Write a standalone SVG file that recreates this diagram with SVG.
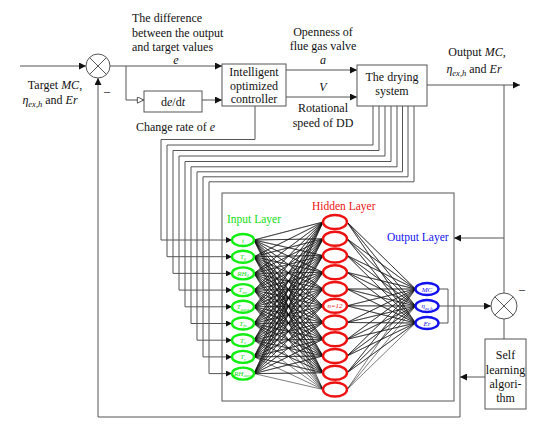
<svg xmlns="http://www.w3.org/2000/svg" width="550" height="428" viewBox="0 0 550 428">
<defs>
<style>
.ln{fill:none;stroke:#555;stroke-width:1}
.bx{fill:#fff;stroke:#555;stroke-width:1}
.t{font-family:"Liberation Serif","Times New Roman",serif;font-size:12px;fill:#111}
.c{text-anchor:middle}
.i{font-style:italic}
.nn{fill:none;stroke:#111;stroke-width:0.55;stroke-linejoin:round}
.gi{fill:#fff;stroke:#11ee11;stroke-width:2.4}
.rh{fill:#fff;stroke:#ee1111;stroke-width:2.4}
.bo{fill:#fff;stroke:#1111ee;stroke-width:2.4}
.sm{font-family:"Liberation Serif",serif;font-style:italic;font-size:7px;text-anchor:middle}
</style>
<marker id="ah" viewBox="0 0 10 10" refX="10" refY="5" markerWidth="9" markerHeight="7" markerUnits="userSpaceOnUse" orient="auto"><path d="M0,0 L10,5 L0,10 z" fill="#111"/></marker>
<marker id="ahs" viewBox="0 0 10 10" refX="10" refY="5" markerWidth="8" markerHeight="6" markerUnits="userSpaceOnUse" orient="auto"><path d="M0,0 L10,5 L0,10 z" fill="#111"/></marker>
<marker id="ao" viewBox="0 0 10 10" refX="10" refY="5" markerWidth="10" markerHeight="7" markerUnits="userSpaceOnUse" orient="auto"><path d="M0.5,0.5 L9.5,5 L0.5,9.5 z" fill="#fff" stroke="#111" stroke-width="1"/></marker>
</defs>
<rect width="550" height="428" fill="#fff"/>

<g id="connectors">
<!-- input to sum -->
<line class="ln" x1="20" y1="66" x2="86" y2="66" marker-end="url(#ah)"/>
<!-- e to controller -->
<line class="ln" x1="110" y1="66" x2="222" y2="66" marker-end="url(#ah)"/>
<polyline class="ln" points="126,66 126,100 144,100" marker-end="url(#ao)"/>
<line class="ln" x1="202" y1="100" x2="222" y2="100" marker-end="url(#ah)"/>
<!-- controller to drying -->
<line class="ln" x1="286" y1="70" x2="357" y2="70" marker-end="url(#ah)"/>
<line class="ln" x1="286" y1="97" x2="357" y2="97" marker-end="url(#ah)"/>
<!-- output -->
<line class="ln" x1="427" y1="85" x2="520" y2="85" marker-end="url(#ah)"/>
<line class="ln" x1="504" y1="85" x2="504" y2="293"/>
<line class="ln" x1="504" y1="238" x2="454" y2="238" marker-end="url(#ah)"/>
<!-- feedback -->
<polyline class="ln" points="460,306 460,417 98,417 98,78" marker-end="url(#ah)"/>
<line class="ln" x1="504" y1="319" x2="504" y2="339"/>
<line class="ln" x1="485" y1="377" x2="460" y2="377" marker-end="url(#ah)"/>
<!-- nn outputs -->
<line class="ln" x1="438.5" y1="306" x2="491" y2="306" marker-end="url(#ah)"/>
<polyline class="ln" points="438.5,289 448,289 448,323 438.5,323"/>
<!-- wires to inputs -->
<polyline class="ln" points="255,106 255,139.5 161,139.5 161,240 232,240" marker-end="url(#ahs)"/>
<polyline class="ln" points="373,106 373,145 167,145 167,256.7 232,256.7" marker-end="url(#ahs)"/>
<polyline class="ln" points="379,106 379,150.5 173,150.5 173,273.4 232,273.4" marker-end="url(#ahs)"/>
<polyline class="ln" points="385,106 385,156 179,156 179,290.1 232,290.1" marker-end="url(#ahs)"/>
<polyline class="ln" points="391,106 391,161.5 185,161.5 185,306.8 232,306.8" marker-end="url(#ahs)"/>
<polyline class="ln" points="397,106 397,166.8 191,166.8 191,323.5 232,323.5" marker-end="url(#ahs)"/>
<polyline class="ln" points="402.5,106 402.5,171.8 197,171.8 197,340.2 232,340.2" marker-end="url(#ahs)"/>
<polyline class="ln" points="408,106 408,176.8 203,176.8 203,356.9 232,356.9" marker-end="url(#ahs)"/>
<polyline class="ln" points="414,106 414,181.8 209,181.8 209,373.6 232,373.6" marker-end="url(#ahs)"/>
</g>

<g id="sum1">
<circle cx="98" cy="66" r="12" class="bx"/>
<path class="ln" d="M89.5,57.5 L106.5,74.5 M106.5,57.5 L89.5,74.5"/>
<text class="t" x="104" y="95">–</text>
</g>

<g id="target-label">
<text class="t c" x="55" y="89">Target <tspan class="i">MC</tspan>,</text>
<text class="t c" x="50" y="104"><tspan class="i">η</tspan><tspan class="i" font-size="8.5" dy="3">ex,h</tspan><tspan dy="-3"> and </tspan><tspan class="i">Er</tspan></text>
</g>

<g id="diff-label">
<text class="t" x="132" y="22">The difference</text>
<text class="t" x="132" y="37">between the output</text>
<text class="t" x="132" y="51">and target values</text>
<text class="t c i" x="176" y="64">e</text>
</g>

<g id="dedt">
<rect class="bx" x="144" y="91" width="58" height="21"/>
<text class="t c" x="173" y="106">d<tspan class="i">e</tspan>/d<tspan class="i">t</tspan></text>
<text class="t" x="136" y="131">Change rate of <tspan class="i">e</tspan></text>
</g>

<g id="controller">
<rect class="bx" x="222" y="64" width="64" height="42"/>
<text class="t c" x="254" y="76">Intelligent</text>
<text class="t c" x="254" y="90">optimized</text>
<text class="t c" x="254" y="103">controller</text>
</g>

<g id="signal-labels">
<text class="t c" x="323" y="36">Openness of</text>
<text class="t c" x="323" y="50">flue gas valve</text>
<text class="t c i" x="323" y="64">a</text>
<text class="t c i" x="323" y="91">V</text>
<text class="t c" x="323" y="112">Rotational</text>
<text class="t c" x="323" y="127">speed of DD</text>
</g>

<g id="drying">
<rect class="bx" x="357" y="65" width="70" height="41"/>
<text class="t c" x="392" y="81">The drying</text>
<text class="t c" x="392" y="95">system</text>
</g>

<g id="output-label">
<text class="t c" x="477" y="56">Output <tspan class="i">MC</tspan>,</text>
<text class="t c" x="474" y="73"><tspan class="i">η</tspan><tspan class="i" font-size="8.5" dy="3">ex,h</tspan><tspan dy="-3"> and </tspan><tspan class="i">Er</tspan></text>
</g>

<g id="nn">
<rect class="ln" x="222" y="193" width="232" height="208"/>
<text class="t" x="227" y="223" fill="#11dd11" style="fill:#11dd11;font-size:11.5px">Input Layer</text>
<text class="t" x="312" y="210" style="fill:#ee1111;font-size:11.5px">Hidden Layer</text>
<text class="t" x="387" y="241" style="fill:#1111ee;font-size:11.5px">Output Layer</text>
<path class="nn" d="M254 240 L323 222 254 240 323 238.8 254 240 323 255.5 254 240 323 272.3 254 240 323 289 254 240 323 305.8 254 240 323 322.5 254 240 323 339.3 254 240 323 356 254 240 323 372.8 254 240 323 389.5
M254 256.7 L323 222 254 256.7 323 238.8 254 256.7 323 255.5 254 256.7 323 272.3 254 256.7 323 289 254 256.7 323 305.8 254 256.7 323 322.5 254 256.7 323 339.3 254 256.7 323 356 254 256.7 323 372.8 254 256.7 323 389.5
M254 273.4 L323 222 254 273.4 323 238.8 254 273.4 323 255.5 254 273.4 323 272.3 254 273.4 323 289 254 273.4 323 305.8 254 273.4 323 322.5 254 273.4 323 339.3 254 273.4 323 356 254 273.4 323 372.8 254 273.4 323 389.5
M254 290.1 L323 222 254 290.1 323 238.8 254 290.1 323 255.5 254 290.1 323 272.3 254 290.1 323 289 254 290.1 323 305.8 254 290.1 323 322.5 254 290.1 323 339.3 254 290.1 323 356 254 290.1 323 372.8 254 290.1 323 389.5
M254 306.8 L323 222 254 306.8 323 238.8 254 306.8 323 255.5 254 306.8 323 272.3 254 306.8 323 289 254 306.8 323 305.8 254 306.8 323 322.5 254 306.8 323 339.3 254 306.8 323 356 254 306.8 323 372.8 254 306.8 323 389.5
M254 323.5 L323 222 254 323.5 323 238.8 254 323.5 323 255.5 254 323.5 323 272.3 254 323.5 323 289 254 323.5 323 305.8 254 323.5 323 322.5 254 323.5 323 339.3 254 323.5 323 356 254 323.5 323 372.8 254 323.5 323 389.5
M254 340.2 L323 222 254 340.2 323 238.8 254 340.2 323 255.5 254 340.2 323 272.3 254 340.2 323 289 254 340.2 323 305.8 254 340.2 323 322.5 254 340.2 323 339.3 254 340.2 323 356 254 340.2 323 372.8 254 340.2 323 389.5
M254 356.9 L323 222 254 356.9 323 238.8 254 356.9 323 255.5 254 356.9 323 272.3 254 356.9 323 289 254 356.9 323 305.8 254 356.9 323 322.5 254 356.9 323 339.3 254 356.9 323 356 254 356.9 323 372.8 254 356.9 323 389.5
M254 373.6 L323 222 254 373.6 323 238.8 254 373.6 323 255.5 254 373.6 323 272.3 254 373.6 323 289 254 373.6 323 305.8 254 373.6 323 322.5 254 373.6 323 339.3 254 373.6 323 356 254 373.6 323 372.8 254 373.6 323 389.5
M415.5 289 L347 222 415.5 289 347 238.8 415.5 289 347 255.5 415.5 289 347 272.3 415.5 289 347 289 415.5 289 347 305.8 415.5 289 347 322.5 415.5 289 347 339.3 415.5 289 347 356 415.5 289 347 372.8 415.5 289 347 389.5
M415.5 306 L347 222 415.5 306 347 238.8 415.5 306 347 255.5 415.5 306 347 272.3 415.5 306 347 289 415.5 306 347 305.8 415.5 306 347 322.5 415.5 306 347 339.3 415.5 306 347 356 415.5 306 347 372.8 415.5 306 347 389.5
M415.5 323 L347 222 415.5 323 347 238.8 415.5 323 347 255.5 415.5 323 347 272.3 415.5 323 347 289 415.5 323 347 305.8 415.5 323 347 322.5 415.5 323 347 339.3 415.5 323 347 356 415.5 323 347 372.8 415.5 323 347 389.5"/>
</g>

<g id="input-nodes">
<ellipse class="gi" cx="243" cy="240" rx="11" ry="6"/>
<ellipse class="gi" cx="243" cy="256.7" rx="11" ry="6"/>
<ellipse class="gi" cx="243" cy="273.4" rx="11" ry="6"/>
<ellipse class="gi" cx="243" cy="290.1" rx="11" ry="6"/>
<ellipse class="gi" cx="243" cy="306.8" rx="11" ry="6"/>
<ellipse class="gi" cx="243" cy="323.5" rx="11" ry="6"/>
<ellipse class="gi" cx="243" cy="340.2" rx="11" ry="6"/>
<ellipse class="gi" cx="243" cy="356.9" rx="11" ry="6"/>
<ellipse class="gi" cx="243" cy="373.6" rx="11" ry="6"/>
<g fill="#11dd11">
<text class="sm" x="243" y="242.5">t</text>
<text class="sm" x="243" y="259">T<tspan font-size="4.5" dy="1.5">0</tspan></text>
<text class="sm" x="243" y="275.7">RH<tspan font-size="4.5" dy="1.5">0</tspan></text>
<text class="sm" x="243" y="292.4">T<tspan font-size="4.5" dy="1.5">air</tspan></text>
<text class="sm" x="243" y="309.1">T<tspan font-size="4.5" dy="1.5">aave</tspan></text>
<text class="sm" x="243" y="325.8">T<tspan font-size="4.5" dy="1.5">fu</tspan></text>
<text class="sm" x="243" y="342.5">T<tspan font-size="4.5" dy="1.5">c</tspan></text>
<text class="sm" x="243" y="359.2">T<tspan font-size="4.5" dy="1.5">r</tspan></text>
<text class="sm" x="243" y="375.9">RH<tspan font-size="4.5" dy="1.5">aave</tspan></text>
</g>
</g>

<g id="hidden-nodes">
<ellipse class="rh" cx="335" cy="222" rx="12" ry="7"/>
<ellipse class="rh" cx="335" cy="238.8" rx="12" ry="7"/>
<ellipse class="rh" cx="335" cy="255.5" rx="12" ry="7"/>
<ellipse class="rh" cx="335" cy="272.3" rx="12" ry="7"/>
<ellipse class="rh" cx="335" cy="289" rx="12" ry="7"/>
<ellipse class="rh" cx="335" cy="305.8" rx="12" ry="7"/>
<ellipse class="rh" cx="335" cy="322.5" rx="12" ry="7"/>
<ellipse class="rh" cx="335" cy="339.3" rx="12" ry="7"/>
<ellipse class="rh" cx="335" cy="356" rx="12" ry="7"/>
<ellipse class="rh" cx="335" cy="372.8" rx="12" ry="7"/>
<ellipse class="rh" cx="335" cy="389.5" rx="12" ry="7"/>
<text class="sm" x="335" y="308.2" fill="#ee1111">n=12</text>
</g>

<g id="output-nodes">
<ellipse class="bo" cx="427" cy="289" rx="11.5" ry="6"/>
<ellipse class="bo" cx="427" cy="306" rx="11.5" ry="6"/>
<ellipse class="bo" cx="427" cy="323" rx="11.5" ry="6"/>
<g fill="#1111ee">
<text class="sm" x="427" y="291.5">MC</text>
<text class="sm" x="427" y="308">η<tspan font-size="4.5" dy="1.5">ex,h</tspan></text>
<text class="sm" x="427" y="325.5">Er</text>
</g>
</g>

<g id="sum2">
<circle cx="504" cy="306" r="13" class="bx"/>
<path class="ln" d="M494.8,296.8 L513.2,315.2 M513.2,296.8 L494.8,315.2"/>
<text class="t" x="519" y="293">–</text>
</g>

<g id="self-learning">
<rect class="bx" x="485" y="339" width="41" height="70"/>
<text class="t c" x="505.5" y="359">Self</text>
<text class="t c" x="505.5" y="374">learning</text>
<text class="t c" x="505.5" y="388">algori-</text>
<text class="t c" x="505.5" y="402">thm</text>
</g>
</svg>
